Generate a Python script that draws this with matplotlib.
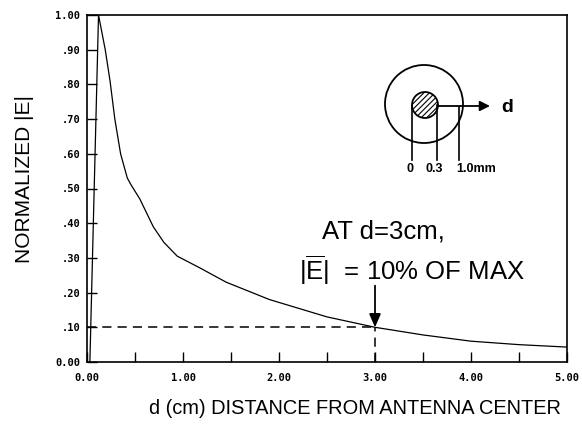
import numpy as np
import matplotlib
matplotlib.use("Agg")
from matplotlib import pyplot as plt
from matplotlib.patches import Circle
from matplotlib.ticker import MultipleLocator

plt.rcParams['font.family'] = ['Liberation Sans', 'DejaVu Sans']
plt.rcParams['mathtext.fontset'] = 'custom'
plt.rcParams['mathtext.rm'] = 'Liberation Sans'
plt.rcParams['mathtext.it'] = 'Liberation Sans'
plt.rcParams['hatch.linewidth'] = 0.8

# normalized field magnitude vs distance from the antenna axis
dist_cm = [0.03, 0.12, 0.19, 0.24, 0.29, 0.35, 0.42, 0.46, 0.55, 0.69, 0.80,
           0.94, 1.17, 1.45, 1.90, 2.50, 3.00, 3.50, 4.00, 4.50, 5.00]
e_norm = [0.0, 1.0, 0.90, 0.81, 0.70, 0.60, 0.53, 0.51, 0.47, 0.39, 0.345,
          0.305, 0.272, 0.23, 0.18, 0.13, 0.10, 0.078, 0.06, 0.05, 0.043]

mark_d = 3.0
mark_e = 0.10

xticks = [0, 1, 2, 3, 4, 5]
xtick_labels = ['0.00', '1.00', '2.00', '3.00', '4.00', '5.00']
yticks = [0.0, 0.1, 0.2, 0.3, 0.4, 0.5, 0.6, 0.7, 0.8, 0.9, 1.0]
ytick_labels = ['0.00', '.10', '.20', '.30', '.40', '.50', '.60', '.70', '.80', '.90', '1.00']

W, H = 582, 425
fig = plt.figure(figsize=(W / 100, H / 100), dpi=100)
ax = fig.add_axes([87 / W, (H - 362) / H, 480 / W, 347 / H])

ax.plot(dist_cm, e_norm, color='black', lw=0.9)
ax.plot([0, mark_d], [mark_e, mark_e], color='black', lw=1.1, ls=(0, (6, 4)))
ax.plot([mark_d, mark_d], [0, mark_e], color='black', lw=1.1, ls=(0, (6, 4)))
ax.annotate('', xy=(mark_d, mark_e), xytext=(mark_d, 0.22),
            arrowprops=dict(arrowstyle='-|>,head_length=0.8,head_width=0.35',
                            color='black', lw=1.3, shrinkA=0, shrinkB=0))

ax.set_xlim(0, 5)
ax.set_ylim(0, 1)
ax.set_xticks(xticks)
ax.set_xticklabels(xtick_labels)
ax.xaxis.set_minor_locator(MultipleLocator(0.5))
ax.set_yticks(yticks)
ax.set_yticklabels(ytick_labels)
ax.tick_params(axis='both', which='both', direction='in', length=7, width=1.0, color='black')
ax.tick_params(axis='x', pad=8)
ax.tick_params(axis='y', pad=5)
for lab in ax.get_xticklabels() + ax.get_yticklabels():
    lab.set_family('DejaVu Sans Mono')
    lab.set_fontweight('bold')
    lab.set_fontsize(7.5)
for sp in ax.spines.values():
    sp.set_linewidth(1.2)

# callout text, placed in figure pixels
fig.text(322 / W, 1 - 238 / H, 'AT d=3cm,', fontsize=18.5, ha='left', va='baseline')
fig.text(299 / W, 1 - 280 / H, r'$|\overline{\mathrm{E}}|$  = 10% OF MAX', fontsize=18.5,
         ha='left', va='baseline')

fig.text(355 / W, 1 - 408 / H, 'd (cm) DISTANCE FROM ANTENNA CENTER',
         fontsize=14.4, ha='center', va='center')
fig.text(25 / W, 1 - 179 / H, 'NORMALIZED |E|', fontsize=15, rotation=90,
         ha='center', va='center')

# coax cross-section sketch, drawn in pixel space
ov = fig.add_axes([0, 0, 1, 1], facecolor='none')
ov.set_xlim(0, W)
ov.set_ylim(H, 0)
ov.axis('off')
cx, cy = 424, 104
ov.add_patch(Circle((cx, cy), 39, fill=False, ec='black', lw=1.3))
ov.add_patch(Circle((cx + 1, cy + 1), 13, fc='white', ec='black', lw=1.3, hatch='//////'))
ov.annotate('', xy=(490, cy + 2), xytext=(438, cy + 2),
            arrowprops=dict(arrowstyle='-|>,head_length=0.6,head_width=0.3',
                            color='black', lw=1.3, shrinkA=0, shrinkB=0))
ov.text(507, cy + 3, 'd', fontsize=14, fontweight='bold', ha='center', va='center')
ov.plot([412, 412], [cy + 1, 160], color='black', lw=1.2)
ov.plot([437, 437], [cy + 1, 160], color='black', lw=1.2)
ov.plot([459, 459], [cy + 3, 160], color='black', lw=1.2)
ov.text(410, 169, '0', fontsize=9, fontweight='bold', ha='center', va='center')
ov.text(434, 169, '0.3', fontsize=9, fontweight='bold', ha='center', va='center')
ov.text(476, 169, '1.0mm', fontsize=9, fontweight='bold', ha='center', va='center')

fig.savefig('out.png', dpi=100)
